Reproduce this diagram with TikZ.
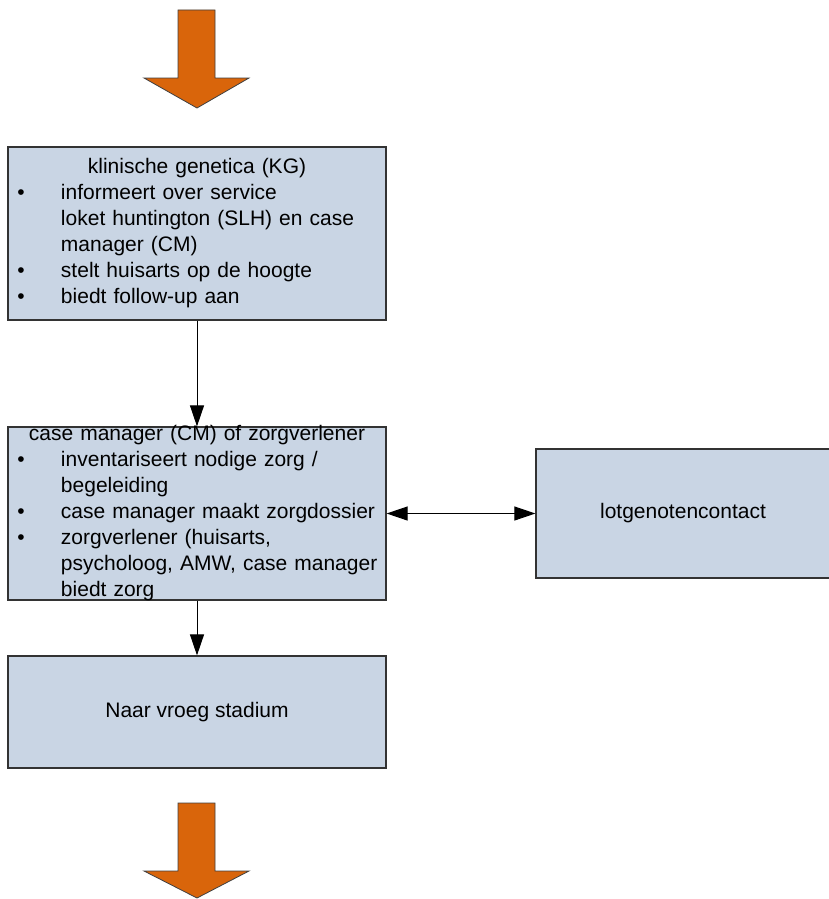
\documentclass[tikz,border=0pt]{standalone}
\usepackage{fontspec}
\setmainfont{Liberation Sans}
\usepackage{xcolor}
\usetikzlibrary{arrows.meta}
\definecolor{LightSlate}{RGB}{201, 213, 228}
\definecolor{DeepOrange}{RGB}{217, 101, 11}
\newcommand{\punt}{\par\noindent\makebox[49pt][l]{\hspace{5.5pt}\textbullet}}
\newcommand{\verder}{\par\noindent\hspace*{49pt}}

\begin{document}
\begin{tikzpicture}[x = 1pt, y = -1pt, >={Triangle[length = 21pt, width = 14pt]},
        vak/.style = {draw = black!80, fill = LightSlate, line width = 1.2pt, minimum width = 378pt,
            inner sep = 0pt, font = \fontsize{21}{26}\selectfont},
        lijst/.style = {text width = 370pt, inner sep = 0pt, font = \fontsize{21}{26}\selectfont}]
            \useasboundingbox (0, 0) rectangle (829, 899);
            %画大箭头
            \foreach \top/\tip in {10/108, 803/898}
                \filldraw[fill = DeepOrange, draw = black!75, line width = 0.8pt]
                    (178, \top) -- (215, \top) -- (215, \top + 68) -- (249, \top + 68)
                    -- (197, \tip) -- (144, \top + 68) -- (178, \top + 68) -- cycle;
            %画方框
            \node[vak, minimum height = 173pt] (kg) at (197, 233.5) {};
            \node[vak, minimum height = 173pt] (cm) at (197, 513.5) {};
            \node[vak, minimum width = 294pt, minimum height = 129pt] (lot) at (683, 513.5) {lotgenotencontact};
            \node[vak, minimum height = 112pt] (vroeg) at (197, 712) {Naar vroeg stadium};
            %标注文字
            \node[lijst] (kg-tekst) at (kg) {\centerline{klinische genetica (KG)}
                \punt informeert over service
                \verder loket huntington (SLH) en case
                \verder manager (CM)
                \punt stelt huisarts op de hoogte
                \punt biedt follow-up aan};
            \node[lijst] (cm-tekst) at (cm) {\centerline{case manager (CM) of zorgverlener}
                \punt inventariseert nodige zorg /
                \verder begeleiding
                \punt case manager maakt zorgdossier
                \punt zorgverlener (huisarts,
                \verder psycholoog, AMW, case manager
                \verder biedt zorg};
            %画连线
            \draw[->, line width = 1pt] (kg) -- (cm);
            \draw[->, line width = 1pt] (cm) -- (vroeg);
            \draw[<->, line width = 1pt] (cm) -- (lot);
        \end{tikzpicture}
\end{document}
